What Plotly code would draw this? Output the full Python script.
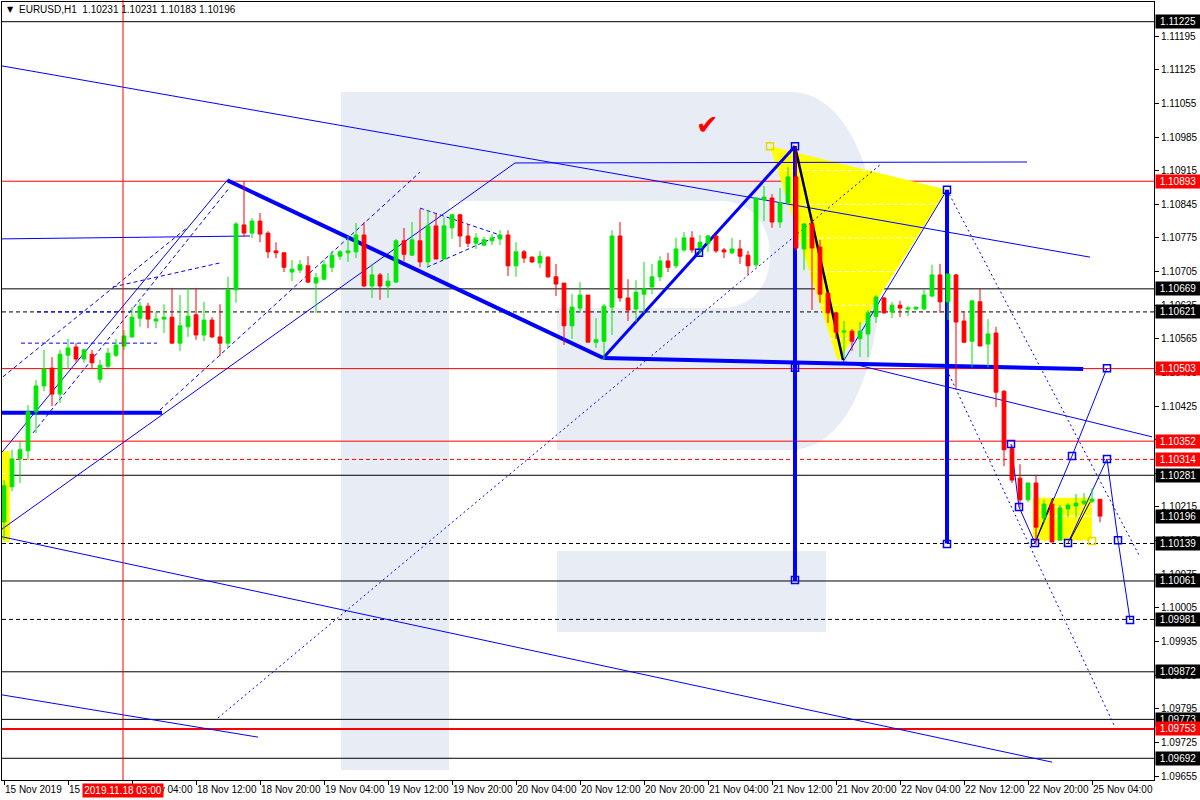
import plotly.graph_objects as go
from datetime import datetime, timedelta

# ---------------- data ----------------
header_text = "EURUSD,H1  1.10231 1.10231 1.10183 1.10196"

opens = [
    1.10184, 1.10257, 1.10315, 1.10332, 1.10413, 1.10467, 1.10504, 1.10450, 1.10531, 1.10548,
    1.10523, 1.10533, 1.10481, 1.10508, 1.10531, 1.10550, 1.10569, 1.10608, 1.10633, 1.10602,
    1.10606, 1.10610, 1.10556, 1.10590, 1.10615, 1.10573, 1.10604, 1.10569, 1.10556, 1.10667,
    1.10802, 1.10785, 1.10810, 1.10785, 1.10748, 1.10744, 1.10704, 1.10708, 1.10717, 1.10681,
    1.10689, 1.10714, 1.10737, 1.10744, 1.10746, 1.10781, 1.10675, 1.10698, 1.10675, 1.10683,
    1.10769, 1.10739, 1.10769, 1.10725, 1.10800, 1.10731, 1.10796, 1.10823, 1.10779, 1.10764,
    1.10760, 1.10769, 1.10773, 1.10781, 1.10717, 1.10746, 1.10735, 1.10723, 1.10735, 1.10694,
    1.10681, 1.10592, 1.10629, 1.10656, 1.10558, 1.10560, 1.10631, 1.10779, 1.10650, 1.10627,
    1.10658, 1.10673, 1.10694, 1.10727, 1.10717, 1.10750, 1.10775, 1.10750, 1.10764, 1.10779,
    1.10750, 1.10744, 1.10752, 1.10739, 1.10719, 1.10854, 1.10858, 1.10808, 1.10848, 1.10902,
    1.10752, 1.10804, 1.10756, 1.10660, 1.10619, 1.10579, 1.10581, 1.10565, 1.10575, 1.10612,
    1.10650, 1.10621, 1.10635, 1.10627, 1.10627, 1.10627, 1.10654, 1.10698, 1.10642, 1.10698,
    1.10602, 1.10560, 1.10642, 1.10554, 1.10577, 1.10456, 1.10336, 1.10275, 1.10230, 1.10265,
    1.10192, 1.10221, 1.10146, 1.10211, 1.10217, 1.10223, 1.10227, 1.10231]

highs = [
    1.10271, 1.10334, 1.10350, 1.10427, 1.10479, 1.10542, 1.10527, 1.10542, 1.10565, 1.10556,
    1.10544, 1.10542, 1.10521, 1.10546, 1.10565, 1.10583, 1.10631, 1.10642, 1.10640, 1.10621,
    1.10637, 1.10671, 1.10656, 1.10671, 1.10671, 1.10642, 1.10610, 1.10637, 1.10694, 1.10808,
    1.10893, 1.10816, 1.10827, 1.10789, 1.10766, 1.10744, 1.10729, 1.10729, 1.10737, 1.10702,
    1.10729, 1.10748, 1.10750, 1.10779, 1.10806, 1.10808, 1.10721, 1.10702, 1.10702, 1.10773,
    1.10796, 1.10808, 1.10835, 1.10833, 1.10825, 1.10818, 1.10825, 1.10825, 1.10804, 1.10785,
    1.10777, 1.10783, 1.10791, 1.10791, 1.10766, 1.10750, 1.10737, 1.10748, 1.10737, 1.10721,
    1.10681, 1.10658, 1.10683, 1.10656, 1.10608, 1.10637, 1.10791, 1.10808, 1.10689, 1.10687,
    1.10725, 1.10721, 1.10737, 1.10744, 1.10775, 1.10787, 1.10789, 1.10781, 1.10781, 1.10781,
    1.10754, 1.10775, 1.10771, 1.10748, 1.10860, 1.10883, 1.10866, 1.10879, 1.10922, 1.10966,
    1.10806, 1.10816, 1.10771, 1.10662, 1.10621, 1.10602, 1.10585, 1.10600, 1.10625, 1.10656,
    1.10652, 1.10642, 1.10644, 1.10633, 1.10631, 1.10667, 1.10719, 1.10721, 1.10700, 1.10700,
    1.10621, 1.10644, 1.10669, 1.10606, 1.10590, 1.10458, 1.10344, 1.10304, 1.10265, 1.10282,
    1.10230, 1.10232, 1.10219, 1.10223, 1.10242, 1.10244, 1.10254, 1.10231]

lows = [
    1.10146, 1.10248, 1.10265, 1.10313, 1.10369, 1.10456, 1.10425, 1.10431, 1.10502, 1.10517,
    1.10515, 1.10502, 1.10473, 1.10504, 1.10527, 1.10542, 1.10567, 1.10590, 1.10587, 1.10587,
    1.10577, 1.10556, 1.10540, 1.10569, 1.10563, 1.10560, 1.10567, 1.10529, 1.10546, 1.10640,
    1.10777, 1.10775, 1.10766, 1.10733, 1.10733, 1.10704, 1.10685, 1.10702, 1.10681, 1.10619,
    1.10687, 1.10704, 1.10729, 1.10725, 1.10733, 1.10673, 1.10650, 1.10646, 1.10650, 1.10681,
    1.10727, 1.10739, 1.10714, 1.10714, 1.10731, 1.10731, 1.10773, 1.10756, 1.10756, 1.10752,
    1.10758, 1.10760, 1.10760, 1.10696, 1.10694, 1.10723, 1.10723, 1.10712, 1.10692, 1.10654,
    1.10552, 1.10565, 1.10619, 1.10558, 1.10546, 1.10521, 1.10573, 1.10642, 1.10602, 1.10600,
    1.10619, 1.10658, 1.10685, 1.10704, 1.10712, 1.10746, 1.10744, 1.10735, 1.10746, 1.10744,
    1.10733, 1.10741, 1.10721, 1.10698, 1.10714, 1.10810, 1.10796, 1.10796, 1.10843, 1.10748,
    1.10708, 1.10625, 1.10640, 1.10598, 1.10565, 1.10525, 1.10540, 1.10527, 1.10527, 1.10598,
    1.10617, 1.10608, 1.10610, 1.10612, 1.10625, 1.10625, 1.10652, 1.10619, 1.10604, 1.10463,
    1.10556, 1.10506, 1.10550, 1.10506, 1.10423, 1.10300, 1.10265, 1.10213, 1.10225, 1.10136,
    1.10182, 1.10142, 1.10146, 1.10194, 1.10194, 1.10219, 1.10223, 1.10183]

closes = [
    1.10259, 1.10315, 1.10334, 1.10413, 1.10467, 1.10502, 1.10450, 1.10533, 1.10546, 1.10523,
    1.10542, 1.10515, 1.10510, 1.10535, 1.10552, 1.10571, 1.10610, 1.10633, 1.10606, 1.10606,
    1.10610, 1.10556, 1.10592, 1.10612, 1.10573, 1.10604, 1.10569, 1.10556, 1.10667, 1.10804,
    1.10785, 1.10810, 1.10783, 1.10746, 1.10744, 1.10714, 1.10710, 1.10719, 1.10683, 1.10692,
    1.10719, 1.10739, 1.10746, 1.10748, 1.10781, 1.10675, 1.10698, 1.10675, 1.10685, 1.10769,
    1.10741, 1.10771, 1.10725, 1.10800, 1.10731, 1.10800, 1.10823, 1.10779, 1.10764, 1.10775,
    1.10771, 1.10775, 1.10781, 1.10717, 1.10746, 1.10733, 1.10725, 1.10737, 1.10694, 1.10679,
    1.10592, 1.10631, 1.10656, 1.10558, 1.10563, 1.10633, 1.10779, 1.10650, 1.10625, 1.10662,
    1.10669, 1.10694, 1.10727, 1.10714, 1.10752, 1.10775, 1.10750, 1.10766, 1.10779, 1.10748,
    1.10746, 1.10752, 1.10737, 1.10717, 1.10858, 1.10860, 1.10808, 1.10848, 1.10902, 1.10754,
    1.10804, 1.10754, 1.10658, 1.10619, 1.10579, 1.10581, 1.10560, 1.10581, 1.10619, 1.10652,
    1.10619, 1.10635, 1.10629, 1.10629, 1.10631, 1.10656, 1.10698, 1.10642, 1.10700, 1.10600,
    1.10558, 1.10644, 1.10550, 1.10575, 1.10454, 1.10334, 1.10271, 1.10230, 1.10265, 1.10173,
    1.10221, 1.10142, 1.10213, 1.10219, 1.10223, 1.10227, 1.10231, 1.10196]

# horizontal price levels
level_prices = [1.11225, 1.10893, 1.10669, 1.10621, 1.10503, 1.10352, 1.10314, 1.10281,
                1.10139, 1.10061, 1.09981, 1.09872, 1.09773, 1.09753, 1.09692]
level_colors = ["black", "red", "black", "black", "red", "red", "red", "black",
                "black", "black", "black", "black", "black", "red", "black"]
level_dashes = ["solid", "solid", "solid", "dash", "solid", "solid", "dash", "solid",
                "dash", "solid", "dash", "solid", "solid", "solid", "solid"]
level_widths = [1, 1, 1, 1, 1, 1, 1, 1, 1, 1, 1, 1, 1, 2, 1]
current_price = 1.10196
crosshair_bar = 14.875
crosshair_label = "2019.11.18 03:00"

# drawn objects: (bar index, price)
thin_lines = [
    ([-0.25, 135.75], [1.11133, 1.10735]),
    ([-0.25, 131.0], [1.10153, 1.09684]),
    ([-0.25, 31.75], [1.09824, 1.09736]),
    ([105.1, 143.5], [1.10517, 1.10361]),
    ([-0.25, 63.875, 127.875], [1.10169, 1.10931, 1.10933]),
    ([-0.25, 27.9], [1.10329, 1.10895]),
    ([-0.25, 30.75], [1.10773, 1.10779]),
    ([104.875, 117.875], [1.10517, 1.10875]),
    ([128.875, 133.5, 137.875], [1.10140, 1.10321, 1.10504]),
    ([133.0, 137.875, 139.25, 140.75], [1.10140, 1.10315, 1.10146, 1.09980]),
    ([125.875, 126.875, 128.875], [1.10346, 1.10215, 1.10140]),
]
bold_lines = [
    ([27.9, 74.9, 134.9], [1.10895, 1.10525, 1.10502], 4),
    ([-0.25, 19.75], [1.10411, 1.10411], 4),
    ([74.9, 98.875], [1.10525, 1.10966], 3),
    ([98.875, 98.875], [1.10966, 1.10061], 4),
    ([117.875, 117.875], [1.10875, 1.10139], 4),
]
dotted_lines = [
    ([26.75, 109.5], [1.09776, 1.10927]),
    ([117.875, 142.0], [1.10875, 1.10111]),
    ([117.875, 138.875], [1.10500, 1.09757]),
]
dashed_lines = [
    ([-0.125, 22.875], [1.10486, 1.10796]),
    ([2.125, 19.125], [1.10556, 1.10556]),
    ([4.125, 14.875], [1.10621, 1.10621]),
    ([3.625, 28.25], [1.10369, 1.10881]),
    ([13.625, 27.0], [1.10673, 1.10723]),
    ([19.5, 52.0], [1.10417, 1.10912]),
    ([52.0, 62.0], [1.10837, 1.10781]),
    ([52.875, 62.0], [1.10714, 1.10781]),
]
black_lines = [
    ([98.875, 104.875], [1.10966, 1.10521], 2.5),
    ([129.1, 131.1], [1.10150, 1.10234], 1),
    ([133.25, 135.75], [1.10146, 1.10225], 1),
]
yellow_triangle = ([95.75, 117.875, 104.25], [1.10966, 1.10875, 1.10517])
yellow_rects = [
    (128.6, 136.0, 1.10144, 1.10234),
    (-0.25, 0.75, 1.10142, 1.10331),
]
blue_squares_x = [98.875, 98.875, 98.875, 117.875, 117.875, 86.875, 133.5, 137.875,
                  133.0, 137.875, 139.25, 140.75, 125.875, 126.875, 128.875]
blue_squares_y = [1.10966, 1.10505, 1.10063, 1.10875, 1.10138, 1.10744, 1.10321, 1.10504,
                  1.10140, 1.10315, 1.10146, 1.09980, 1.10346, 1.10215, 1.10140]
yellow_squares_x = [95.75, 136.0]
yellow_squares_y = [1.10966, 1.10144]
check_pos = (87.9, 1.11012)

# ---------------- figure ----------------
FONT = "Liberation Sans, Arial, DejaVu Sans"
W, H = 1200, 800
ML, MR, MT, MB = 2, 46, 2, 20
PW, PH = W - ML - MR, H - MT - MB
DASH = "4px,3px"
DOT = "2px,3px"


def pp(x, y):
    """pixel -> paper (for the watermark and header only)"""
    return (x - ML) / PW, 1 - (y - MT) / PH


def path_from(cmds):
    out = []
    for c in cmds:
        if c[0] == "Z":
            out.append("Z")
            continue
        pts = []
        for k in range(1, len(c), 2):
            a, b = pp(c[k], c[k + 1])
            pts.append(f"{a:.5f},{b:.5f}")
        out.append(c[0] + " " + " ".join(pts))
    return " ".join(out)


# times
times = []
t = datetime(2019, 11, 15, 12)
while len(times) < len(opens):
    if t.weekday() < 5:
        times.append(t)
    t += timedelta(hours=1)
idx = list(range(len(opens)))
tick_idx = list(range(0, len(opens), 8))
tick_text = []
for k, i in enumerate(tick_idx):
    tt = times[i]
    tick_text.append(f"{tt.day} {tt.strftime('%b')} 2019" if k == 0 else f"{tt.day} {tt.strftime('%b %H:%M')}")

y_ticks = [round(1.09655 + 0.0007 * k, 5) for k in range(23)]

shapes = []
logo_col = "#E8EDF5"
shapes.append(dict(type="path", xref="paper", yref="paper", layer="below", line=dict(width=0),
                   fillcolor=logo_col,
                   path=path_from([("M", 341, 92), ("L", 790, 92), ("C", 850, 92, 880, 180, 880, 271),
                                   ("C", 880, 362, 850, 450, 790, 450), ("L", 557, 450), ("L", 557, 308),
                                   ("L", 720, 308), ("C", 752, 308, 770, 285, 770, 255),
                                   ("C", 770, 225, 752, 201, 720, 201), ("L", 449, 201), ("L", 449, 770),
                                   ("L", 341, 770), ("Z",)])))
shapes.append(dict(type="path", xref="paper", yref="paper", layer="below", line=dict(width=0),
                   fillcolor=logo_col,
                   path=path_from([("M", 557, 551), ("L", 826, 551), ("L", 826, 632), ("L", 557, 632), ("Z",)])))

# yellow fills
tx, ty = yellow_triangle
shapes.append(dict(type="path", xref="x", yref="y", layer="below", line=dict(width=0), fillcolor="#FFFF00",
                   path=f"M {tx[0]},{ty[0]} L {tx[1]},{ty[1]} L {tx[2]},{ty[2]} Z"))
for x0, x1, y0, y1 in yellow_rects:
    shapes.append(dict(type="rect", xref="x", yref="y", layer="below", line=dict(width=0),
                       fillcolor="#FFFF00", x0=x0, x1=x1, y0=y0, y1=y1))


# white (background-coloured) grid lines, visible only where they cross the yellow fills
def tri_span(p):
    xs = []
    for a in range(3):
        b = (a + 1) % 3
        ya, yb = ty[a], ty[b]
        if (ya - p) * (yb - p) <= 0 and ya != yb:
            xs.append(tx[a] + (p - ya) * (tx[b] - tx[a]) / (yb - ya))
    return (min(xs), max(xs)) if len(xs) >= 2 else None


for p in y_ticks:
    sp = tri_span(p)
    if sp:
        shapes.append(dict(type="line", xref="x", yref="y", layer="below", x0=sp[0], x1=sp[1], y0=p, y1=p,
                           line=dict(color="white", width=1, dash=DASH)))
    for x0, x1, y0, y1 in yellow_rects:
        if y0 < p < y1:
            shapes.append(dict(type="line", xref="x", yref="y", layer="below", x0=x0, x1=x1, y0=p, y1=p,
                               line=dict(color="white", width=1, dash=DASH)))
x0r, x1r, _, _ = yellow_rects[0]
shapes.append(dict(type="line", xref="x", yref="y", layer="below", x0=x0r, x1=x1r, y0=current_price,
                   y1=current_price, line=dict(color="white", width=1)))

# horizontal levels
for p, c, d, w in zip(level_prices, level_colors, level_dashes, level_widths):
    shapes.append(dict(type="line", xref="paper", yref="y", layer="below", x0=0, x1=1, y0=p, y1=p,
                       line=dict(color=c, width=w, dash=DASH if d == "dash" else "solid")))


def add_poly(xs, ys, color, width, dash="solid"):
    for k in range(len(xs) - 1):
        shapes.append(dict(type="line", xref="x", yref="y", layer="below",
                           x0=xs[k], x1=xs[k + 1], y0=ys[k], y1=ys[k + 1],
                           line=dict(color=color, width=width, dash=dash)))


BLUE = "#0000FF"
for xs, ys in thin_lines:
    add_poly(xs, ys, BLUE, 1)
for xs, ys in dotted_lines:
    add_poly(xs, ys, BLUE, 1, DOT)
for xs, ys in dashed_lines:
    add_poly(xs, ys, BLUE, 1, DASH)
for xs, ys, w in bold_lines:
    add_poly(xs, ys, BLUE, w)
for xs, ys, w in black_lines:
    add_poly(xs, ys, "black", w)

# crosshair
shapes.append(dict(type="line", xref="x", yref="paper", layer="above", x0=crosshair_bar, x1=crosshair_bar,
                   y0=0, y1=1.003, line=dict(color="red", width=1)))

fig = go.Figure()
fig.add_trace(go.Candlestick(
    x=idx, open=opens, high=highs, low=lows, close=closes,
    increasing=dict(line=dict(color="#00E600", width=1), fillcolor="#00E600"),
    decreasing=dict(line=dict(color="#FF0000", width=1), fillcolor="#FF0000"),
    whiskerwidth=0, hoverinfo="skip"))
fig.add_trace(go.Scatter(x=blue_squares_x, y=blue_squares_y, mode="markers", hoverinfo="skip",
                         marker=dict(symbol="square-open", size=7, color=BLUE, line=dict(width=1.5, color=BLUE))))
fig.add_trace(go.Scatter(x=yellow_squares_x, y=yellow_squares_y, mode="markers", hoverinfo="skip",
                         marker=dict(symbol="square-open", size=7, color="#E8D800",
                                     line=dict(width=1.5, color="#E8D800"))))

annotations = []
# header
annotations.append(dict(xref="paper", yref="paper", x=pp(5, 10)[0], y=pp(5, 10)[1], xanchor="left",
                        yanchor="middle", text="▼", showarrow=False,
                        font=dict(family="DejaVu Sans", size=8, color="black")))
annotations.append(dict(xref="paper", yref="paper", x=pp(17, 10)[0], y=pp(17, 10)[1], xanchor="left",
                        yanchor="middle", text=header_text, showarrow=False,
                        font=dict(family=FONT, size=10, color="black")))
# level labels on the right axis
label_prices = level_prices + [current_price]
label_colors = level_colors + ["black"]
for p, c in zip(label_prices, label_colors):
    annotations.append(dict(xref="paper", yref="y", x=pp(1155, 0)[0], y=p, xanchor="left", yanchor="middle",
                            text=f"{p:.5f}", showarrow=False, bgcolor=c, width=42, height=11,
                            borderpad=1, align="center",
                            font=dict(family=FONT, size=10, color="white")))
# crosshair time label
annotations.append(dict(xref="x", yref="paper", x=crosshair_bar, y=pp(0, 790)[1], xanchor="center",
                        yanchor="middle", text=crosshair_label, showarrow=False, bgcolor="red",
                        width=78, height=11, borderpad=1,
                        font=dict(family=FONT, size=10, color="white")))
# check mark
annotations.append(dict(xref="x", yref="y", x=check_pos[0], y=check_pos[1], text="✔", showarrow=False,
                        font=dict(family="DejaVu Sans", size=27, color="red")))

fig.update_layout(
    width=W, height=H, margin=dict(l=ML, r=MR, t=MT, b=MB, autoexpand=False),
    plot_bgcolor="white", paper_bgcolor="white", showlegend=False,
    boxgap=0.33, shapes=shapes, annotations=annotations,
    font=dict(family=FONT, size=10, color="black"),
    xaxis=dict(range=[-0.25, 143.75], showgrid=False, zeroline=False, showline=True, linecolor="black",
               linewidth=1, mirror=True, ticks="outside", ticklen=4, tickcolor="black",
               tickvals=tick_idx, ticktext=tick_text, ticklabelposition="outside right", tickangle=0,
               automargin=False,
               tickfont=dict(family=FONT, size=10, color="black"), rangeslider=dict(visible=False)),
    yaxis=dict(range=[1.096468, 1.11266], side="right", showgrid=False, zeroline=False, showline=True,
               linecolor="black", linewidth=1, mirror=True, ticks="outside", ticklen=4, tickcolor="black",
               tickvals=y_ticks, ticktext=[f"{v:.5f}" for v in y_ticks], automargin=False,
               tickfont=dict(family=FONT, size=10, color="black")),
)

fig.write_html("out.html", config={"displayModeBar": False},
               post_script="document.body.style.margin='0px';document.body.style.overflow='hidden';")
